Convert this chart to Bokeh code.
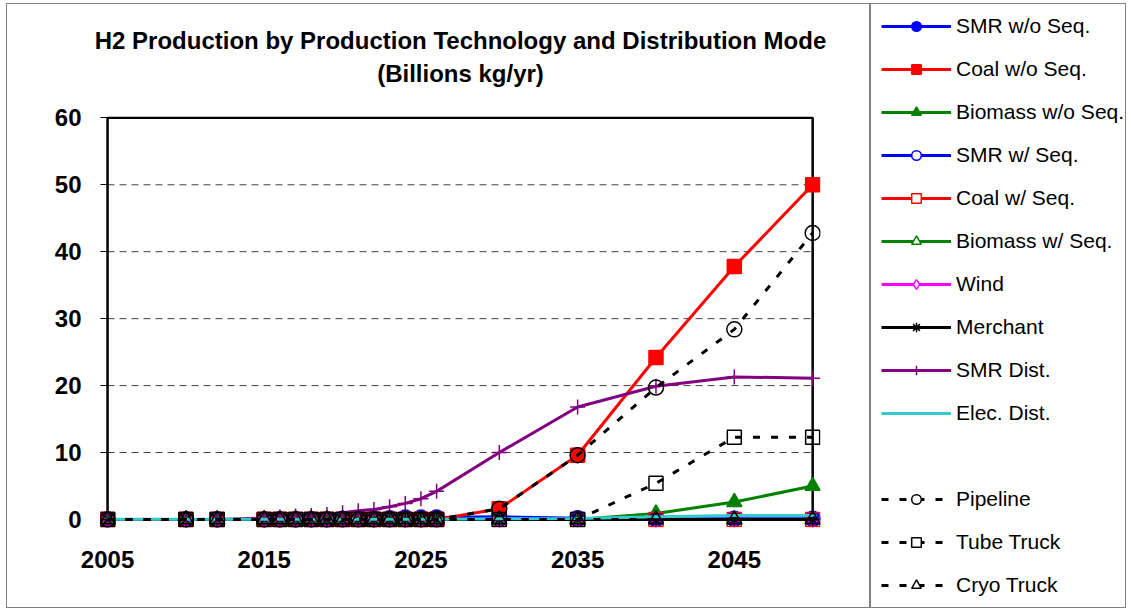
from bokeh.plotting import figure
from bokeh.models import Range1d, FixedTicker, BoxAnnotation, Legend, LegendItem, Title, ColumnDataSource
from bokeh.layouts import row
from bokeh.embed import file_html
from bokeh.resources import INLINE

# ---------------- data ----------------
years = [2005, 2010, 2012, 2015, 2016, 2017, 2018, 2019, 2020, 2021, 2022, 2023, 2024, 2025, 2026,
         2030, 2035, 2040, 2045, 2050]

smr_wo_seq     = [0, 0, 0, 0, 0, 0, 0, 0, 0.1, 0.1, 0.2, 0.2, 0.3, 0.3, 0.3, 0.4, 0.2, 0.1, 0.1, 0.1]
coal_wo_seq    = [0, 0, 0, 0, 0, 0, 0, 0, 0, 0, 0, 0, 0, 0, 0, 1.6, 9.6, 24.2, 37.8, 50.0]
biomass_wo_seq = [0, 0, 0, 0, 0, 0, 0, 0, 0, 0, 0, 0, 0, 0, 0, 0, 0, 0.9, 2.6, 5.0]
smr_w_seq      = [0, 0, 0, 0, 0, 0, 0, 0, 0, 0, 0, 0, 0, 0, 0, 0, 0, 0, 0, 0]
coal_w_seq     = [0, 0, 0, 0, 0, 0, 0, 0, 0, 0, 0, 0, 0, 0, 0, 0, 0, 0, 0, 0]
biomass_w_seq  = [0, 0, 0, 0, 0, 0, 0, 0, 0, 0, 0, 0, 0, 0, 0, 0, 0, 0, 0, 0]
wind           = [0, 0, 0, 0, 0, 0, 0, 0, 0, 0, 0, 0, 0, 0, 0, 0, 0, 0, 0, 0]
merchant       = [0, 0, 0, 0, 0, 0, 0, 0, 0, 0, 0, 0, 0, 0, 0, 0, 0, 0, 0, 0]
smr_dist       = [0, 0, 0, 0.2, 0.35, 0.5, 0.6, 0.75, 1.0, 1.3, 1.5, 1.9, 2.4, 3.1, 4.2, 10.0, 16.8, 19.9, 21.3, 21.1]
elec_dist      = [0.05, 0.05, 0.05, 0.05, 0.05, 0.05, 0.05, 0.05, 0.05, 0.05, 0.05, 0.05, 0.05, 0.05, 0.05,
                  0.1, 0.15, 0.4, 0.6, 0.6]
pipeline       = [0, 0, 0, 0, 0, 0, 0, 0, 0, 0, 0, 0, 0, 0, 0, 1.6, 9.6, 19.7, 28.4, 42.8]
tube_truck     = [0, 0, 0, 0, 0, 0, 0, 0, 0, 0, 0, 0, 0, 0, 0, 0, 0, 5.4, 12.3, 12.3]
cryo_truck     = [0, 0, 0, 0, 0, 0, 0, 0, 0, 0, 0, 0, 0, 0, 0, 0, 0, 0, 0, 0]

series_names = ["SMR w/o Seq.", "Coal w/o Seq.", "Biomass w/o Seq.", "SMR w/ Seq.", "Coal w/ Seq.",
                "Biomass w/ Seq.", "Wind", "Merchant", "SMR Dist.", "Elec. Dist.",
                "Pipeline", "Tube Truck", "Cryo Truck"]
series_values = [smr_wo_seq, coal_wo_seq, biomass_wo_seq, smr_w_seq, coal_w_seq, biomass_w_seq,
                 wind, merchant, smr_dist, elec_dist, pipeline, tube_truck, cryo_truck]

x_tick_labels = [2005, 2015, 2025, 2035, 2045]
y_ticks = [0, 10, 20, 30, 40, 50, 60]
grid_values = [10, 20, 30, 40, 50]

title_text = "H2 Production by Production Technology and Distribution Mode"
subtitle_text = "(Billions kg/yr)"

# ---------------- styles ----------------
colors  = ["#0000FF", "#FF0000", "#008000", "#0000FF", "#FF0000", "#008000", "#FF00FF",
           "#000000", "#800080", "#33CCCC", "#000000", "#000000", "#000000"]
markers = ["circle", "square", "triangle", "circle", "square", "triangle", "diamond",
           "asterisk", "cross", "dash", "circle", "square", "triangle"]
filled  = [True, True, True, False, False, False, False, False, False, False, False, False, False]
sizes   = [15, 14, 15, 14, 14, 15, 15, 14, 15, 9, 15, 14, 15]
dashes  = ["solid"] * 10 + ["7 11"] * 3

FONT = "Liberation Sans"
BORDER = "1px solid #808080"

# ---------------- chart ----------------
p = figure(width=864, height=605, x_range=Range1d(2004.55, 2050.5), y_range=Range1d(-1.2, 60.2),
           output_backend="svg", toolbar_location=None, title=None,
           min_border_left=93, min_border_right=51, min_border_top=112, min_border_bottom=82)
p.styles = {"border": BORDER}
p.outline_line_color = None
p.background_fill_color = "white"
p.border_fill_color = "white"
p.xgrid.grid_line_color = None
p.ygrid.grid_line_color = None

gsrc = ColumnDataSource(dict(x0=[years[0]] * len(grid_values), x1=[years[-1]] * len(grid_values),
                             y=grid_values))
gr = p.segment(x0="x0", x1="x1", y0="y", y1="y", source=gsrc, line_color="#404040",
               line_width=1, line_dash="7 5")
gr.level = "underlay"

box = BoxAnnotation(left=years[0], right=years[-1], bottom=y_ticks[0], top=y_ticks[-1],
                    fill_color=None, fill_alpha=0, line_color="black", line_alpha=1.0,
                    line_width=2.5, level="underlay")
p.add_layout(box)

sources = []
for i, (name, vals) in enumerate(zip(series_names, series_values)):
    src = ColumnDataSource(dict(x=years, y=vals))
    sources.append(src)
    p.line("x", "y", source=src, line_color=colors[i], line_width=3, line_dash=dashes[i])
    p.scatter("x", "y", source=src, marker=markers[i], size=sizes[i],
              line_color=colors[i], line_width=1.5,
              fill_color=colors[i] if filled[i] else None)

p.xaxis.ticker = FixedTicker(ticks=x_tick_labels)
p.xaxis.axis_line_color = None
p.xaxis.major_tick_line_color = None
p.xaxis.minor_tick_line_color = None
p.xaxis.major_label_text_font = FONT
p.xaxis.major_label_text_font_size = "24px"
p.xaxis.major_label_text_font_style = "bold"
p.xaxis.major_label_text_color = "black"
p.xaxis.major_label_standoff = 17

p.yaxis.ticker = FixedTicker(ticks=y_ticks)
p.yaxis.axis_line_color = None
p.yaxis.major_tick_in = 7
p.yaxis.major_tick_out = 0
p.yaxis.major_tick_line_color = "black"
p.yaxis.minor_tick_line_color = None
p.yaxis.major_label_text_font = FONT
p.yaxis.major_label_text_font_size = "24px"
p.yaxis.major_label_text_font_style = "bold"
p.yaxis.major_label_text_color = "black"
p.yaxis.major_label_standoff = 19

spacer = Title(text=" ", standoff=24, text_font_size="1px")
sub = Title(text=subtitle_text, align="center", offset=14, standoff=6,
            text_font=FONT, text_font_size="24px", text_font_style="bold", text_color="black")
main = Title(text=title_text, align="center", offset=14, standoff=1,
             text_font=FONT, text_font_size="24px", text_font_style="bold", text_color="black")
p.add_layout(spacer, "above")
p.add_layout(sub, "above")
p.add_layout(main, "above")

# ---------------- legend panel ----------------
q = figure(width=256, height=605, x_range=Range1d(0, 1), y_range=Range1d(0, 1),
           output_backend="svg", toolbar_location=None, title=None,
           x_axis_type=None, y_axis_type=None,
           min_border_left=0, min_border_right=0, min_border_top=0, min_border_bottom=0)
q.styles = {"border": BORDER}
q.outline_line_color = None
q.background_fill_color = "white"
q.border_fill_color = "white"

items = []
for i, name in enumerate(series_names):
    lr = q.line("x", "y", source=sources[i], line_color=colors[i], line_width=3, line_dash=dashes[i])
    mr = q.scatter("x", "y", source=sources[i], marker=markers[i], size=sizes[i],
                   line_color=colors[i], line_width=1.5,
                   fill_color=colors[i] if filled[i] else "white")
    items.append(LegendItem(label=name, renderers=[lr, mr]))
    if name == "Elec. Dist.":
        br = q.line("x", "y", source=sources[i], line_alpha=0)
        items.append(LegendItem(label=" ", renderers=[br]))

legend = Legend(items=items, location="top_left", padding=10, spacing=19, label_height=24,
                glyph_height=24, glyph_width=70, label_standoff=5, margin=10,
                border_line_color=None, background_fill_alpha=0,
                label_text_font=FONT, label_text_font_size="21px", label_text_color="black")
q.add_layout(legend)

for fig in (p, q):
    if "frame_align" in fig.properties():
        fig.frame_align = False

layout = row(p, q)
layout.margin = (3, 0, 0, 6)

open("out.html", "w").write(file_html(layout, INLINE))
